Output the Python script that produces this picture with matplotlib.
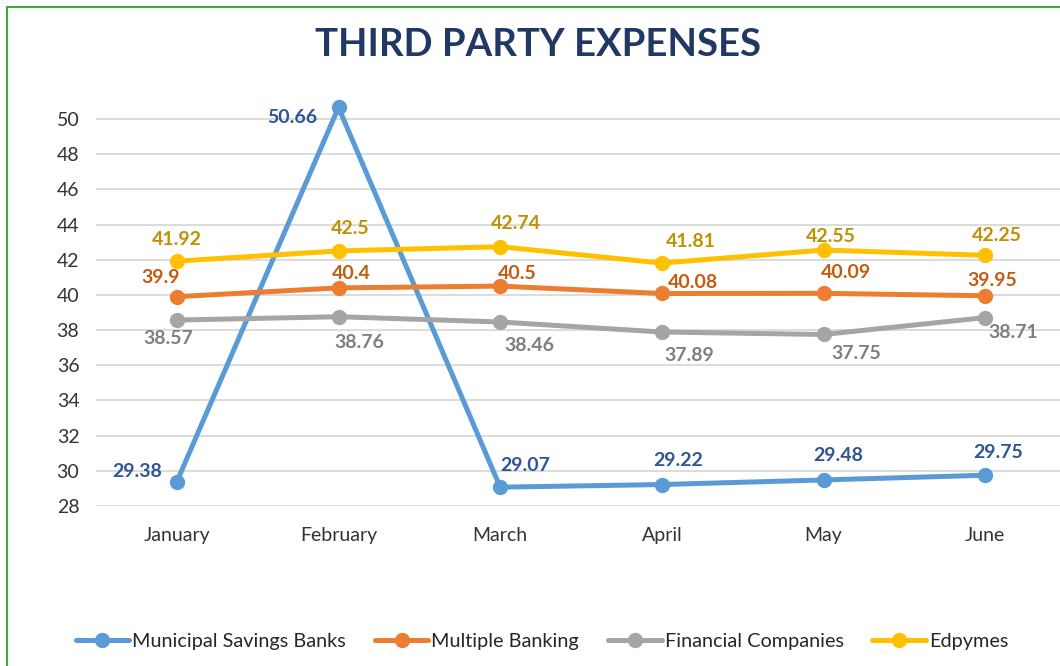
import matplotlib.pyplot as plt
from matplotlib.lines import Line2D

plt.rcParams['font.family'] = ['Lato', 'DejaVu Sans']

months = ['January', 'February', 'March', 'April', 'May', 'June']
series_names = ['Municipal Savings Banks', 'Multiple Banking',
                'Financial Companies', 'Edpymes']
municipal = [29.38, 50.66, 29.07, 29.22, 29.48, 29.75]
multiple = [39.9, 40.4, 40.5, 40.08, 40.09, 39.95]
financial = [38.57, 38.76, 38.46, 37.89, 37.75, 38.71]
edpymes = [41.92, 42.5, 42.74, 41.81, 42.55, 42.25]
yticks = list(range(28, 51, 2))

# styling
line_colors = ['#5B9BD5', '#ED7D31', '#A5A5A5', '#FFC000']
label_colors = ['#2F5597', '#C55A11', '#7F7F7F', '#BF9000']
# label offsets in pixels (dx, dy with dy downward)
offsets = [
    [(-40, -10), (-46, 10), (25, -22), (16, -24), (15, -24), (13, -23)],
    [(-16, -19), (13, -14), (17, -13), (31, -11), (22, -21), (7, -15)],
    [(-9, 18), (21, 26), (29, 24), (27, 23), (33, 19), (28, 15)],
    [(0, -22), (12, -22), (16, -23), (29, -22), (7, -14), (12, -20)],
]

W, H = 1060, 666
fig = plt.figure(figsize=(W / 100, H / 100), dpi=100)
ax = fig.add_axes([96 / W, 1 - 506 / H, 970 / W, (506 - 101.4) / H])

x = list(range(len(months)))
all_series = [municipal, multiple, financial, edpymes]
for vals, name, lc, tc, offs in zip(all_series, series_names, line_colors,
                                    label_colors, offsets):
    ax.plot(x, vals, color=lc, lw=3.6, marker='o', ms=10, label=name,
            clip_on=False, solid_capstyle='round')
    for xi, v, (dx, dy) in zip(x, vals, offs):
        ax.annotate(f'{v:g}', (xi, v), xytext=(dx * 0.72, -dy * 0.72),
                    textcoords='offset points', ha='center', va='center',
                    color=tc, fontsize=14, fontweight='bold')

ax.set_xlim(-0.5, 5.5)
ax.set_ylim(28, 51)
ax.set_yticks(yticks)
ax.set_xticks(x)
ax.set_xticklabels(months)
ax.grid(axis='y', color='#D9D9D9', lw=1.3)
ax.set_axisbelow(True)
for s in ax.spines.values():
    s.set_visible(False)
ax.tick_params(axis='both', length=0, labelsize=14, labelcolor='#333333')
ax.tick_params(axis='y', pad=12)
ax.tick_params(axis='x', pad=15)

fig.text(538 / W, 1 - 45 / H, 'THIRD PARTY EXPENSES', ha='center',
         va='center', fontsize=27.5, fontweight='bold', color='#1F3864')

fig.legend(loc='center', bbox_to_anchor=(542 / W, 1 - 641 / H), ncol=4,
           frameon=False, fontsize=14.3, handlelength=2.7,
           handletextpad=0.15, columnspacing=1.45, labelcolor='#262626')

# green frame (left and top edges visible)
fig.add_artist(Line2D([7 / W, 7 / W, 1.0], [0, 1 - 7 / H, 1 - 7 / H],
                      transform=fig.transFigure, color='#3DAA3D', lw=1.5))

fig.savefig('out.png', dpi=100)
